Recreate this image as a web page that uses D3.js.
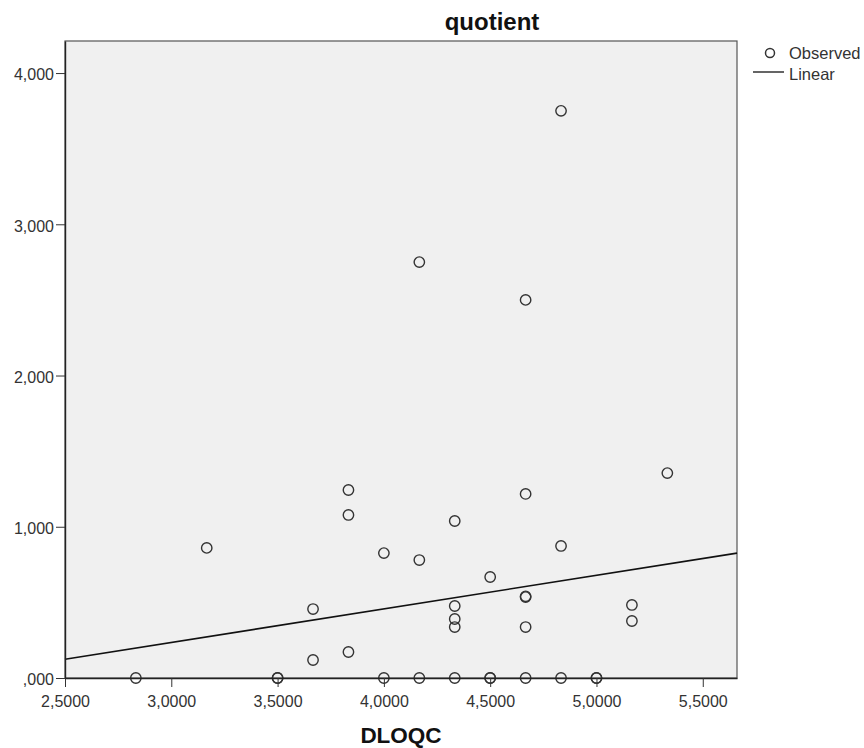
<!DOCTYPE html>
<html>
<head>
  <meta charset="utf-8">
  <title>quotient</title>
  <script src="https://cdn.jsdelivr.net/npm/d3@7"></script>
  <style>
    body { margin: 0; background: #fff; }
    text { font-family: "Liberation Sans", Arial, sans-serif; }
    .tick text { fill: #333; font-size: 16px; }
  </style>
</head>
<body>
<script>
  // observed points (DLOQC, quotient)
  const dloqc = [2.8333, 3.1667, 3.5, 3.5, 3.6667, 3.6667, 3.8333, 3.8333, 3.8333,
                 4.0, 4.0, 4.1667, 4.1667, 4.1667, 4.3333, 4.3333, 4.3333, 4.3333, 4.3333,
                 4.5, 4.5, 4.5, 4.6667, 4.6667, 4.6667, 4.6667, 4.6667, 4.6667,
                 4.8333, 4.8333, 4.8333, 5.0, 5.0, 5.1667, 5.1667, 5.3333];
  const quotient = [0, 0.860, 0, 0, 0.456, 0.119, 1.243, 1.078, 0.172,
                    0.826, 0, 0.780, 2.750, 0, 1.038, 0.476, 0.390, 0.337, 0,
                    0.668, 0, 0, 1.217, 2.500, 0.535, 0.540, 0.337, 0,
                    3.750, 0.873, 0, 0, 0, 0.483, 0.377, 1.355];

  // linear fit
  const fitIntercept = -0.431;
  const fitSlope = 0.222;

  const xTicks = [2.5, 3.0, 3.5, 4.0, 4.5, 5.0, 5.5];
  const yTicks = [0, 1, 2, 3, 4];
  const xDomain = [2.5, 5.661];
  const yDomain = [0, 4.212];

  const W = 864, H = 748;
  const plot = {left: 65, right: 737, top: 41, bottom: 678};

  const svg = d3.select("body").append("svg")
      .attr("width", W).attr("height", H);

  const x = d3.scaleLinear().domain(xDomain).range([plot.left, plot.right]);
  const y = d3.scaleLinear().domain(yDomain).range([plot.bottom, plot.top]);

  const loc = d3.formatLocale({decimal: ",", thousands: ".", grouping: [3], currency: ["", ""]});
  const fx = loc.format(".4f");
  const fy = v => loc.format(".3f")(v).replace(/^0/, "");

  // plot background
  svg.append("rect")
     .attr("x", plot.left).attr("y", plot.top)
     .attr("width", plot.right - plot.left).attr("height", plot.bottom - plot.top)
     .attr("fill", "#f0f0f0")
     .attr("stroke", "#555").attr("stroke-width", 1.2);

  const data = dloqc.map((d, i) => ({x: d, y: quotient[i]}));

  // regression line
  svg.append("line")
     .attr("x1", x(xDomain[0])).attr("y1", y(fitIntercept + fitSlope * xDomain[0]))
     .attr("x2", x(xDomain[1])).attr("y2", y(fitIntercept + fitSlope * xDomain[1]))
     .attr("stroke", "#111").attr("stroke-width", 1.6);

  // points
  svg.append("g").selectAll("circle")
     .data(data)
     .enter().append("circle")
     .attr("cx", d => x(d.x))
     .attr("cy", d => y(d.y))
     .attr("r", 5.2)
     .attr("fill", "none")
     .attr("stroke", "#333")
     .attr("stroke-width", 1.4);

  // axes
  const xAxis = d3.axisBottom(x).tickValues(xTicks).tickFormat(fx).tickSize(9).tickSizeOuter(0);
  svg.append("g")
     .attr("transform", "translate(0," + plot.bottom + ")")
     .call(xAxis)
     .call(g => g.select(".domain").attr("stroke", "#222").attr("stroke-width", 1.4))
     .call(g => g.selectAll(".tick line").attr("stroke", "#333"))
     .call(g => g.selectAll(".tick text").attr("dy", "1.05em"));

  const yAxis = d3.axisLeft(y).tickValues(yTicks).tickFormat(fy).tickSize(9).tickSizeOuter(0);
  svg.append("g")
     .attr("transform", "translate(" + plot.left + ",0)")
     .call(yAxis)
     .call(g => g.select(".domain").attr("stroke", "#222").attr("stroke-width", 1.4))
     .call(g => g.selectAll(".tick line").attr("stroke", "#333"))
     .call(g => g.selectAll(".tick text").attr("x", -11).attr("dy", "0.42em"));

  // titles
  svg.append("text")
     .attr("x", 492).attr("y", 30)
     .attr("text-anchor", "middle")
     .attr("font-size", "24px").attr("font-weight", "bold")
     .attr("fill", "#111")
     .text("quotient");

  svg.append("text")
     .attr("x", 401).attr("y", 743)
     .attr("text-anchor", "middle")
     .attr("font-size", "22.5px").attr("font-weight", "bold")
     .attr("fill", "#111")
     .text("DLOQC");

  // legend
  const lg = svg.append("g");
  lg.append("circle").attr("cx", 770).attr("cy", 53).attr("r", 4.5)
    .attr("fill", "none").attr("stroke", "#333").attr("stroke-width", 1.5);
  lg.append("text").attr("x", 789).attr("y", 59).attr("font-size", "16.5px").attr("fill", "#333").text("Observed");
  lg.append("line").attr("x1", 753).attr("x2", 784).attr("y1", 72).attr("y2", 72)
    .attr("stroke", "#111").attr("stroke-width", 1.3);
  lg.append("text").attr("x", 789).attr("y", 80).attr("font-size", "16.5px").attr("fill", "#333").text("Linear");
</script>
</body>
</html>
